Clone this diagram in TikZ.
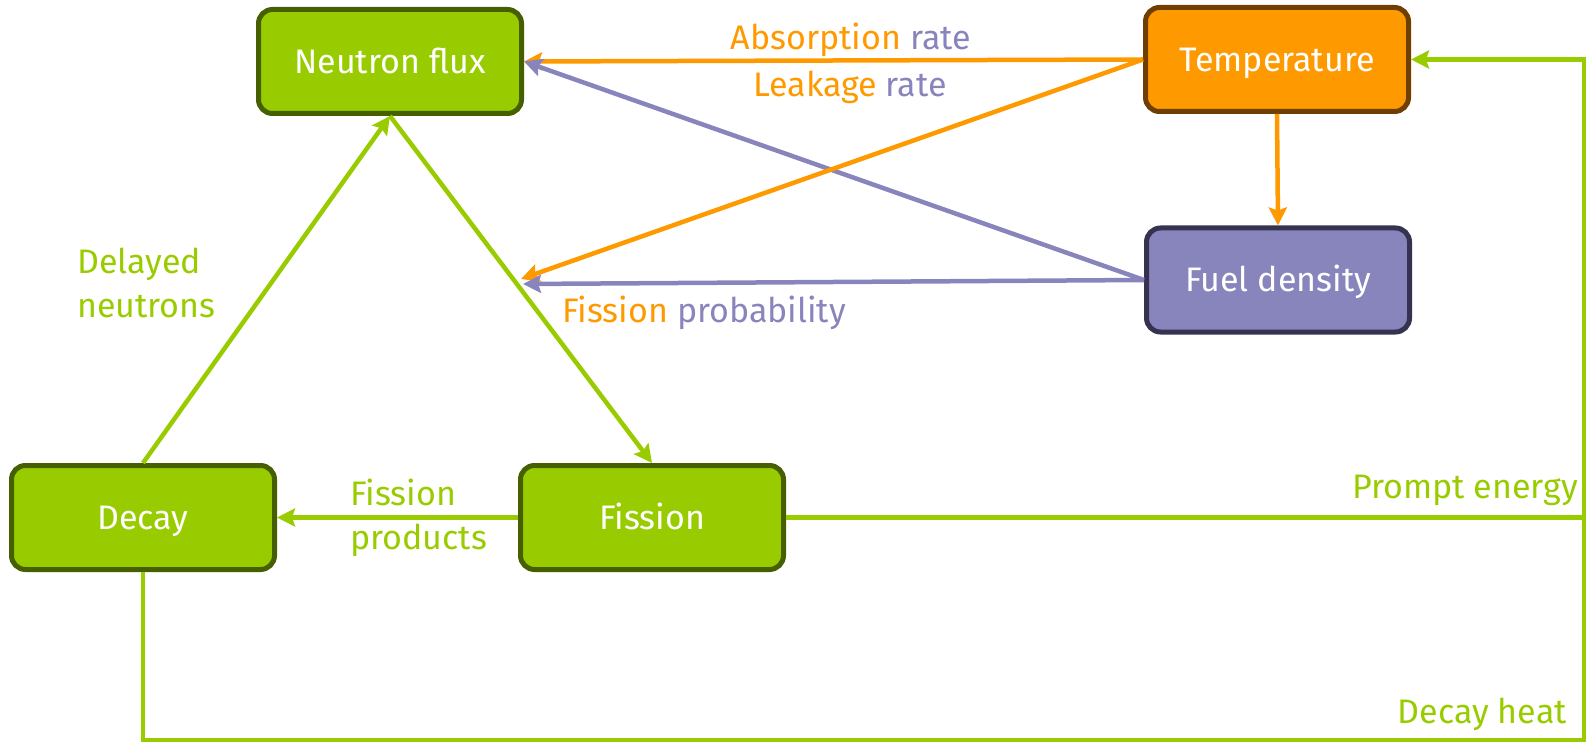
\documentclass[tikz,border=0pt]{standalone}
\usepackage{fontspec}
\setmainfont{Fira Sans}
\usetikzlibrary{arrows.meta,calc}

\definecolor{cgreen}{HTML}{99CC00}
\definecolor{cgreendk}{HTML}{465F00}
\definecolor{corange}{HTML}{FF9900}
\definecolor{corangedk}{HTML}{6E3F00}
\definecolor{cpurple}{HTML}{8884BC}
\definecolor{cpurpledk}{HTML}{35334F}

\tikzset{
  box/.style={rectangle, rounded corners=14pt, line width=5pt,
    minimum width=263pt, minimum height=104pt, inner sep=0pt,
    text=white, font=\fontsize{34}{44}\selectfont,
    text height=23.5pt, text depth=0pt},
  gbox/.style={box, fill=cgreen, draw=cgreendk},
  obox/.style={box, fill=corange, draw=corangedk},
  pbox/.style={box, fill=cpurple, draw=cpurpledk},
  conn/.style={line width=4.5pt, -{Stealth[length=18pt,width=18pt,inset=3pt]}},
  gline/.style={conn, draw=cgreen},
  oline/.style={conn, draw=corange},
  pline/.style={conn, draw=cpurple},
  lbl/.style={inner sep=0pt, font=\fontsize{34}{44}\selectfont},
}

\begin{document}
\begin{tikzpicture}[x=1pt, y=-1pt]
  \useasboundingbox (0,0) rectangle (1587,743);

  % boxes
  \node[gbox]  (nf)   at (390,61.5) {Neutron flux};
  \node[obox]  (temp) at (1277,59.5) {Temperature};
  \node[pbox]  (fuel) at (1278,280) {Fuel density};
  \node[gbox]  (dec)  at (143,517.5) {Decay};
  \node[gbox]  (fis)  at (652,517.5) {Fission};

  % free ends and routing points
  \coordinate (fpa) at (521,279);
  \coordinate (fpb) at (523,284);
  \coordinate (rc)  at (1584,0);
  \coordinate (br)  at (1584,740);

  % feedback from temperature and fuel density
  \draw[oline] (temp.west) -- (nf.east);
  \draw[pline] (fuel.west) -- (nf.east);
  \draw[oline] (temp.west) -- (fpa);
  \draw[pline] (fuel.west) -- (fpb);
  \draw[oline] (temp.south) -- (fuel.north);

  % neutron cycle
  \draw[gline] (nf.south) -- (fis.north);
  \draw[gline] (dec.north) -- (nf.south);
  \draw[gline] (fis.west) -- (dec.east);

  % heat paths
  \draw[gline] (fis.east) -- (fis.east -| rc) |- (temp.east);
  \draw[line width=4.5pt, draw=cgreen] (dec.south) |- (br) -- (br |- fis.east);

  % labels
  \node[lbl, anchor=base] (lab) at (851,50)
    {\textcolor{corange}{Absorption} \textcolor{cpurple}{rate}};
  \node[lbl, anchor=base] (llr) at (850,97)
    {\textcolor{corange}{Leakage} \textcolor{cpurple}{rate}};
  \node[lbl, anchor=base west] (lfp) at (562,322)
    {\textcolor{corange}{Fission} \textcolor{cpurple}{probability}};
  \node[lbl, anchor=base west, text=cgreen] (ldn) at (77,273)
    {\begin{tabular}[t]{@{}l@{}}Delayed\\neutrons\end{tabular}};
  \node[lbl, anchor=base west, text=cgreen] (lfpr) at (350,505)
    {\begin{tabular}[t]{@{}l@{}}Fission\\products\end{tabular}};
  \node[lbl, anchor=base east, text=cgreen] (lpe) at (1578,498) {Prompt energy};
  \node[lbl, anchor=base east, text=cgreen] (ldh) at (1567,723) {Decay heat};
\end{tikzpicture}
\end{document}
